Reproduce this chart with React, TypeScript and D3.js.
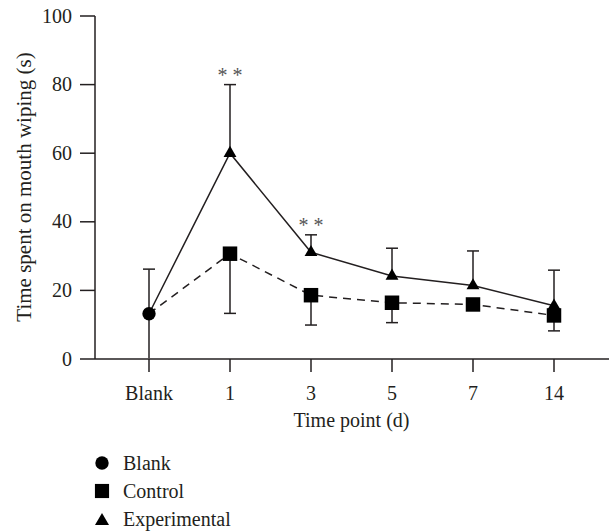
import * as d3 from "d3";

const categories = ["Blank", "1", "3", "5", "7", "14"];
const yTicks = [0, 20, 40, 60, 80, 100];

// Blank group (only at the first time point)
const blankMean = 13.2;
const blankSd = 13.0;

// Control and Experimental, days 1..14
const days = ["1", "3", "5", "7", "14"];
const controlMean = [30.7, 18.6, 16.4, 15.9, 12.7];
const controlSd = [17.4, 8.7, 5.8, 1.5, 4.5];
const expMean = [60.0, 31.1, 24.2, 21.4, 15.5];
const expSd = [20.0, 5.1, 8.1, 10.1, 10.4];

const significant = ["1", "3"];
const legendItems = ["Blank", "Control", "Experimental"];

const W = 609;
const H = 531;
const ink = "#231f20";
const font = "'Liberation Serif', 'Times New Roman', serif";

export default function App() {
  const x = d3.scalePoint<string>().domain(categories).range([149, 554]);
  const y = d3.scaleLinear().domain([0, 100]).range([359, 16]);
  const x0 = 95;

  const ctrlPts: [string, number][] = [["Blank", blankMean], ...days.map((d, i) => [d, controlMean[i]] as [string, number])];
  const expPts: [string, number][] = [["Blank", blankMean], ...days.map((d, i) => [d, expMean[i]] as [string, number])];

  const line = d3
    .line<[string, number]>()
    .x((d) => x(d[0])!)
    .y((d) => y(d[1]));

  const sym = {
    circle: d3.symbol().type(d3.symbolCircle).size(140)()!,
    square: d3.symbol().type(d3.symbolSquare).size(210)()!,
    triangle: d3.symbol().type(d3.symbolTriangle).size(72)()!,
  };
  const legendSym = [
    d3.symbol().type(d3.symbolCircle).size(140)()!,
    d3.symbol().type(d3.symbolSquare).size(200)()!,
    d3.symbol().type(d3.symbolTriangle).size(85)()!,
  ];

  const cap = 6;
  const errBar = (cx: number, from: number, to: number, key: string, withCap = true) => (
    <g key={key} stroke={ink} strokeWidth={1.5}>
      <line x1={cx} x2={cx} y1={y(from)} y2={y(to)} />
      {withCap && <line x1={cx - cap} x2={cx + cap} y1={y(to)} y2={y(to)} />}
    </g>
  );

  const blankLow = Math.max(0, blankMean - blankSd);

  return (
    <svg
      width={W}
      height={H}
      style={{ position: "absolute", left: 0, top: 0, background: "#fff" }}
      fontFamily={font}
    >
      {/* error bars */}
      {errBar(x("Blank")!, blankMean, blankMean + blankSd, "bu")}
      {errBar(x("Blank")!, blankMean, blankLow, "bl", false)}
      {days.map((d, i) => errBar(x(d)!, controlMean[i], controlMean[i] - controlSd[i], "c" + d))}
      {days.map((d, i) => errBar(x(d)!, expMean[i], expMean[i] + expSd[i], "e" + d))}

      {/* axes */}
      <g stroke={ink} strokeWidth={1.5}>
        <line x1={x0} x2={x0} y1={y(100)} y2={y(0)} />
        <line x1={x0} x2={W} y1={y(0)} y2={y(0)} />
        {yTicks.map((t) => (
          <line key={t} x1={x0 - 15} x2={x0} y1={y(t)} y2={y(t)} />
        ))}
        {categories.map((c) => (
          <line key={c} x1={x(c)} x2={x(c)} y1={y(0)} y2={y(0) + 13} />
        ))}
      </g>
      <g fill={ink} fontSize={20}>
        {yTicks.map((t) => (
          <text key={t} x={72} y={y(t)} dy="0.33em" textAnchor="end">
            {t}
          </text>
        ))}
        {categories.map((c) => (
          <text key={c} x={x(c)} y={400} textAnchor="middle">
            {c}
          </text>
        ))}
        <text x={(x("3")! + x("5")!) / 2} y={427} textAnchor="middle">
          Time point (d)
        </text>
        <text transform={`translate(31,${187}) rotate(-90)`} textAnchor="middle" fontSize={21}>
          Time spent on mouth wiping (s)
        </text>
      </g>

      {/* lines */}
      <path d={line(ctrlPts)!} fill="none" stroke={ink} strokeWidth={1.5} strokeDasharray="8,6" />
      <path d={line(expPts)!} fill="none" stroke={ink} strokeWidth={1.5} />

      {/* markers */}
      <path d={sym.circle} transform={`translate(${x("Blank")},${y(blankMean)})`} fill="#000" />
      {days.map((d, i) => (
        <path key={"cs" + d} d={sym.square} transform={`translate(${x(d)},${y(controlMean[i])})`} fill="#000" />
      ))}
      {days.map((d, i) => (
        <path key={"es" + d} d={sym.triangle} transform={`translate(${x(d)},${y(expMean[i])})`} fill="#000" />
      ))}

      {/* significance */}
      {significant.map((d) => {
        const i = days.indexOf(d);
        return (
          <text key={"s" + d} x={x(d)} y={y(expMean[i] + expSd[i]) - 3} textAnchor="middle" fontSize={20} fill="#555">
            * *
          </text>
        );
      })}

      {/* legend */}
      {legendItems.map((name, i) => (
        <g key={name} transform={`translate(102,${463 + i * 28})`}>
          <path d={legendSym[i]} transform={i === 2 ? "translate(0,2)" : undefined} fill="#000" />
          <text x={21} y={6.5} fontSize={20} fill={ink}>
            {name}
          </text>
        </g>
      ))}
    </svg>
  );
}
